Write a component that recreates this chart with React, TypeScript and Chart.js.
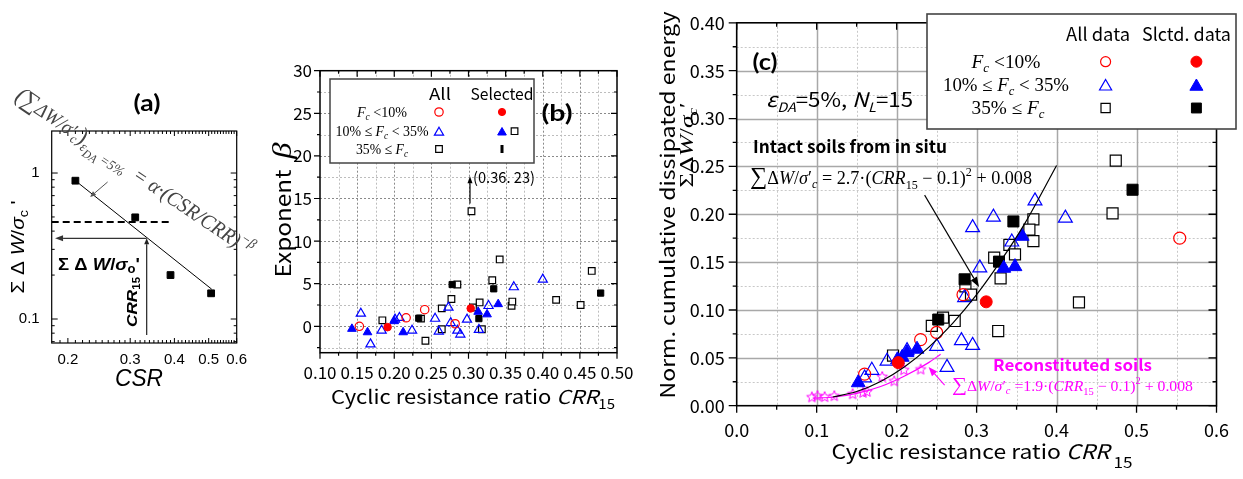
import React, { useEffect, useRef } from "react";
import { Chart, registerables } from "chart.js";
Chart.register(...registerables);

const W = 1243;
const H = 479;
const SANS = '"Noto Sans CJK JP", "Noto Sans", sans-serif';
const ARIAL = '"Liberation Sans", Arial, sans-serif';
const SERIF = '"Liberation Serif", "Times New Roman", serif';
const BOLDS = 'Lato, "Noto Sans", sans-serif';
const RED = "#ff0000";
const BLUE = "#0000ff";
const MAG = "#ff00ff";
const BLK = "#000000";
const NONE = "rgba(0,0,0,0)";

// ---------------- Panel (a) data ----------------
const aCSR = [0.21, 0.31, 0.39, 0.508];
const aEnergy = [0.886, 0.497, 0.2, 0.15];
const aFitCSR = [0.21, 0.51];
const aFitEnergy = [0.886, 0.16];
const aDashCSR = [0.18, 0.39];
const aDashEnergy = [0.462, 0.462];
const aXTicks = [0.2, 0.3, 0.4, 0.5, 0.6];
const aXTickLabels = ["0.2", "0.3", "0.4", "0.5", "0.6"];
const aYTicks = [0.1, 1];
const aYTickLabels = ["0.1", "1"];
const aCRR15 = 0.334;
const aEnergyAtCRR = 0.357;

// ---------------- Panel (b) data ----------------
const bAllLowX = [0.153, 0.216, 0.241, 0.282];
const bAllLowY = [0.0, 1.0, 1.95, 0.3];
const bSelLowX = [0.191, 0.303];
const bSelLowY = [-0.1, 2.1];
const bAllMidX = [0.155, 0.168, 0.183, 0.201, 0.207, 0.224, 0.255, 0.26, 0.273, 0.276, 0.285, 0.289, 0.298, 0.314, 0.327, 0.361, 0.4];
const bAllMidY = [1.5, -2.1, -0.5, 0.8, 1.0, -0.5, 0.9, -0.6, 2.2, 0.4, -0.5, -0.95, 0.8, -0.4, 2.4, 4.6, 5.5];
const bSelMidX = [0.143, 0.164, 0.2, 0.212, 0.313, 0.325, 0.34];
const bSelMidY = [-0.3, -0.7, 0.6, -0.7, 1.7, 1.4, 2.6];
const bAllHighX = [0.184, 0.236, 0.242, 0.264, 0.264, 0.277, 0.285, 0.306, 0.315, 0.318, 0.332, 0.342, 0.358, 0.359, 0.418, 0.451, 0.466, 0.304, 0.362];
const bAllHighY = [0.7, 0.9, -1.7, 2.1, -0.35, 3.2, 4.9, 2.2, 2.8, -0.35, 5.4, 7.85, 2.4, 2.9, 3.1, 2.5, 6.5, 13.5, 22.9];
const bSelHighX = [0.233, 0.278, 0.314, 0.334, 0.478];
const bSelHighY = [0.95, 4.9, 0.9, 4.4, 3.9];
const bXTicks = [0.1, 0.15, 0.2, 0.25, 0.3, 0.35, 0.4, 0.45, 0.5];
const bXTickLabels = ["0.10", "0.15", "0.20", "0.25", "0.30", "0.35", "0.40", "0.45", "0.50"];
const bYTicks = [0, 5, 10, 15, 20, 25, 30];
const bYTickLabels = ["0", "5", "10", "15", "20", "25", "30"];
const bOutlierX = 0.302;
const bOutlierArrowY = [14.4, 17.6];

// ---------------- Panel (c) data ----------------
const cAllLowX = [0.554, 0.25, 0.23, 0.16, 0.283];
const cAllLowY = [0.175, 0.0765, 0.069, 0.033, 0.116];
const cSelLowX = [0.312, 0.202];
const cSelLowY = [0.1085, 0.045];
const cAllMidX = [0.411, 0.373, 0.321, 0.295, 0.344, 0.304, 0.285, 0.281, 0.295, 0.263, 0.25, 0.213, 0.188, 0.169, 0.16];
const cAllMidY = [0.196, 0.214, 0.197, 0.186, 0.171, 0.144, 0.113, 0.068, 0.063, 0.04, 0.062, 0.0575, 0.0465, 0.037, 0.029];
const cSelMidX = [0.357, 0.334, 0.348, 0.2255, 0.213, 0.207, 0.201, 0.152];
const cSelMidY = [0.177, 0.1436, 0.1453, 0.059, 0.0555, 0.0506, 0.048, 0.024];
const cAllHighX = [0.474, 0.47, 0.428, 0.327, 0.371, 0.366, 0.371, 0.341, 0.348, 0.322, 0.33, 0.286, 0.293, 0.258, 0.244, 0.2726, 0.1955];
const cAllHighY = [0.256, 0.201, 0.108, 0.078, 0.1946, 0.184, 0.172, 0.168, 0.158, 0.1546, 0.133, 0.1247, 0.116, 0.092, 0.0834, 0.0885, 0.0524];
const cSelHighX = [0.495, 0.346, 0.328, 0.285, 0.252];
const cSelHighY = [0.2256, 0.1925, 0.1505, 0.132, 0.09];
const cReconX = [0.094, 0.101, 0.11, 0.122, 0.145, 0.158, 0.163, 0.182, 0.197, 0.209, 0.23];
const cReconY = [0.0087, 0.01, 0.009, 0.01, 0.012, 0.0135, 0.0145, 0.03, 0.0255, 0.0371, 0.0378];
const cIntactFitX = [0.12, 0.15, 0.18, 0.21, 0.24, 0.27, 0.3, 0.33, 0.36, 0.4];
const cIntactFitY = [0.0091, 0.0148, 0.0253, 0.0407, 0.0609, 0.086, 0.116, 0.151, 0.19, 0.251];
const cReconFitX = [0.095, 0.12, 0.15, 0.18, 0.21, 0.24, 0.255];
const cReconFitY = [0.008, 0.0088, 0.0128, 0.02, 0.031, 0.045, 0.0537];
const cXTicks = [0, 0.1, 0.2, 0.3, 0.4, 0.5, 0.6];
const cXTickLabels = ["0.0", "0.1", "0.2", "0.3", "0.4", "0.5", "0.6"];
const cYTicks = [0, 0.05, 0.1, 0.15, 0.2, 0.25, 0.3, 0.35, 0.4];
const cYTickLabels = ["0.00", "0.05", "0.10", "0.15", "0.20", "0.25", "0.30", "0.35", "0.40"];
const cIntactArrow = [0.235, 0.22, 0.303, 0.124];
const cReconArrow = [0.26, 0.0214, 0.24, 0.0403];

// ---------------- helpers ----------------
const pts = (xs: number[], ys: number[]) => xs.map((x, i) => ({ x, y: ys[i] }));
const steps = (a: number, b: number, s: number) => {
  const out: number[] = [];
  for (let k = 0; a + k * s <= b + 1e-9; k++) out.push(+(a + k * s).toFixed(4));
  return out;
};

type Seg = { t: string; s: number; f?: string; i?: boolean; b?: boolean; dy?: number; c?: string };
function segFont(g: Seg, fam: string) {
  return `${g.i ? "italic " : ""}${g.b ? "bold " : ""}${g.s}px ${g.f || fam}`;
}
function rich(ctx: any, segs: Seg[], x: number, y: number, o: any) {
  const fam = o.fam || SANS;
  ctx.save();
  ctx.translate(x, y);
  if (o.rot) ctx.rotate(o.rot);
  ctx.textAlign = "left";
  ctx.textBaseline = "alphabetic";
  let nat = 0;
  const ws: number[] = [];
  for (const g of segs) {
    ctx.font = segFont(g, fam);
    const w = ctx.measureText(g.t).width;
    ws.push(w);
    nat += w;
  }
  const sx = o.w ? o.w / nat : 1;
  ctx.scale(sx, 1);
  let cx = o.al === "c" ? -nat / 2 : o.al === "r" ? -nat : 0;
  const base = 0.36 * (o.mid ?? segs[0].s);
  segs.forEach((g, k) => {
    ctx.font = segFont(g, fam);
    ctx.fillStyle = g.c || o.col || "#000";
    ctx.fillText(g.t, cx, base + (g.dy || 0));
    cx += ws[k];
  });
  ctx.restore();
}
function arrow(ctx: any, x1: number, y1: number, x2: number, y2: number, col: string, lw: number, hl = 9, hw = 3.5) {
  ctx.save();
  ctx.strokeStyle = col;
  ctx.fillStyle = col;
  ctx.lineWidth = lw;
  const ang = Math.atan2(y2 - y1, x2 - x1);
  const bx = x2 - hl * Math.cos(ang);
  const by = y2 - hl * Math.sin(ang);
  ctx.beginPath();
  ctx.moveTo(x1, y1);
  ctx.lineTo(bx, by);
  ctx.stroke();
  ctx.beginPath();
  ctx.moveTo(x2, y2);
  ctx.lineTo(bx + hw * Math.sin(ang), by - hw * Math.cos(ang));
  ctx.lineTo(bx - hw * Math.sin(ang), by + hw * Math.cos(ang));
  ctx.closePath();
  ctx.fill();
  ctx.restore();
}
function mark(ctx: any, kind: string, x: number, y: number, r: number, fill: string | null, stroke: string, lw: number) {
  ctx.save();
  ctx.beginPath();
  if (kind === "circle") ctx.arc(x, y, r, 0, Math.PI * 2);
  else if (kind === "triangle") {
    const w = r * Math.sin((2 * Math.PI) / 3);
    ctx.moveTo(x, y - r);
    ctx.lineTo(x + w, y + r / 2);
    ctx.lineTo(x - w, y + r / 2);
    ctx.closePath();
  } else {
    const s = r * Math.SQRT1_2;
    ctx.rect(x - s, y - s, 2 * s, 2 * s);
  }
  if (fill) {
    ctx.fillStyle = fill;
    ctx.fill();
  }
  ctx.lineWidth = lw;
  ctx.strokeStyle = stroke;
  ctx.stroke();
  ctx.restore();
}
function starCanvas(color: string, R: number) {
  const c = document.createElement("canvas");
  const s = Math.ceil(R * 2 + 3);
  c.width = s;
  c.height = s;
  const g = c.getContext("2d") as CanvasRenderingContext2D;
  g.strokeStyle = color;
  g.lineWidth = 1;
  g.beginPath();
  for (let i = 0; i < 10; i++) {
    const r = i % 2 ? R * 0.45 : R;
    const an = -Math.PI / 2 + (i * Math.PI) / 5;
    const x = s / 2 + r * Math.cos(an);
    const y = s / 2 + r * Math.sin(an);
    if (i) g.lineTo(x, y);
    else g.moveTo(x, y);
  }
  g.closePath();
  g.stroke();
  return c;
}

function sc(xs: number[], ys: number[], style: any, r: number, border: string, bg: string, lw: number, order: number) {
  return {
    data: pts(xs, ys),
    pointStyle: style,
    pointRadius: r,
    pointHoverRadius: r,
    pointBorderColor: border,
    pointBackgroundColor: bg,
    pointBorderWidth: lw,
    borderColor: border,
    backgroundColor: bg,
    showLine: false,
    order,
  };
}
function ln(xs: number[], ys: number[], col: string, lw: number, order: number, dash: number[] = [], smooth = false) {
  return {
    data: pts(xs, ys),
    showLine: true,
    borderColor: col,
    borderWidth: lw,
    borderDash: dash,
    pointRadius: 0,
    pointHoverRadius: 0,
    cubicInterpolationMode: smooth ? "monotone" : "default",
    order,
  };
}

function axis(type: string, min: number, max: number, vals: number[], labels: string[], font: any, pad: number, size: number, isX: boolean) {
  return {
    type,
    min,
    max,
    position: isX ? "bottom" : "left",
    grid: { display: false, drawTicks: false },
    border: { display: false },
    afterBuildTicks: (s: any) => {
      s.ticks = vals.map((v) => ({ value: v }));
    },
    afterFit: (s: any) => {
      if (isX) s.height = size;
      else s.width = size;
    },
    ticks: {
      autoSkip: false,
      maxRotation: 0,
      minRotation: 0,
      padding: pad,
      color: "#000",
      font,
      callback: (_v: any, i: number) => labels[i],
    },
  };
}

function makePlugin(spec: any) {
  return {
    id: "decor",
    beforeDatasetsDraw(chart: any) {
      const ctx = chart.ctx;
      const a = chart.chartArea;
      const px = (v: number) => chart.scales.x.getPixelForValue(v);
      const py = (v: number) => chart.scales.y.getPixelForValue(v);
      ctx.save();
      for (const g of spec.grid || []) {
        ctx.strokeStyle = g.color;
        ctx.lineWidth = g.width;
        ctx.setLineDash(g.dash || []);
        ctx.beginPath();
        for (const v of g.x || []) {
          const x = Math.round(px(v)) + 0.5;
          ctx.moveTo(x, a.top);
          ctx.lineTo(x, a.bottom);
        }
        for (const v of g.y || []) {
          const y = Math.round(py(v)) + 0.5;
          ctx.moveTo(a.left, y);
          ctx.lineTo(a.right, y);
        }
        ctx.stroke();
      }
      ctx.setLineDash([]);
      ctx.strokeStyle = "#000";
      ctx.lineWidth = spec.tickW || 1;
      ctx.beginPath();
      for (const t of spec.xt) {
        for (const v of t.v) {
          const x = px(v);
          const d = spec.outX ? t.len : -t.len;
          ctx.moveTo(x, a.bottom);
          ctx.lineTo(x, a.bottom + d);
          ctx.moveTo(x, a.top);
          ctx.lineTo(x, a.top + t.len);
        }
      }
      for (const t of spec.yt) {
        for (const v of t.v) {
          const y = py(v);
          const d = spec.outY ? -t.len : t.len;
          ctx.moveTo(a.left, y);
          ctx.lineTo(a.left + d, y);
          ctx.moveTo(a.right, y);
          ctx.lineTo(a.right - t.len, y);
        }
      }
      ctx.stroke();
      ctx.lineWidth = spec.frameW;
      ctx.strokeRect(a.left, a.top, a.right - a.left, a.bottom - a.top);
      if (spec.before) spec.before(ctx, px, py, a);
      ctx.restore();
    },
    afterDatasetsDraw(chart: any) {
      const ctx = chart.ctx;
      const a = chart.chartArea;
      const px = (v: number) => chart.scales.x.getPixelForValue(v);
      const py = (v: number) => chart.scales.y.getPixelForValue(v);
      ctx.save();
      if (spec.after) spec.after(ctx, px, py, a);
      ctx.restore();
    },
  };
}

function cfg(area: any, xAxis: any, yAxis: any, datasets: any[], spec: any) {
  return {
    type: "scatter",
    data: { datasets },
    options: {
      responsive: false,
      maintainAspectRatio: false,
      animation: false,
      devicePixelRatio: 1,
      events: [],
      layout: { padding: { left: 0, top: area.t, right: W - area.r, bottom: 0 } },
      plugins: { legend: { display: false }, tooltip: { enabled: false } },
      scales: { x: xAxis, y: yAxis },
    },
    plugins: [makePlugin(spec)],
  } as any;
}

// ---------------- Panel (a) ----------------
function configA() {
  const area = { l: 51.7, t: 131, r: 236.7, b: 343 };
  const f = { family: ARIAL, size: 15 };
  const xMinor = steps(0.19, 0.59, 0.01).filter((v) => !aXTicks.some((t) => Math.abs(t - v) < 1e-6));
  const yMinor = [0.07, 0.08, 0.09, 0.2, 0.3, 0.4, 0.5, 0.6, 0.7, 0.8, 0.9];
  const spec = {
    outX: false,
    outY: false,
    frameW: 1.2,
    tickW: 1,
    xt: [
      { v: aXTicks, len: 5 },
      { v: xMinor, len: 3 },
    ],
    yt: [
      { v: aYTicks, len: 6 },
      { v: yMinor, len: 3 },
    ],
    after: (ctx: any, px: any, py: any, a: any) => {
      arrow(ctx, px(aCRR15), py(aEnergyAtCRR), px(0.184), py(aEnergyAtCRR), "#333", 1.4, 8, 3);
      arrow(ctx, px(aCRR15), a.bottom - 8, px(aCRR15), py(aEnergyAtCRR), "#222", 1.2, 6, 2.5);
      arrow(ctx, px(0.259), py(0.868), px(0.231), py(0.685), "#555", 1, 6, 2.5);
      rich(ctx, [{ t: "(a)", s: 22, b: true }], 147, 103, { al: "c", w: 27, fam: BOLDS });
      rich(
        ctx,
        [
          { t: "Σ Δ ", s: 19 },
          { t: "W", s: 19, i: true },
          { t: "/", s: 19 },
          { t: "σ", s: 19, i: true },
          { t: "c", s: 13, dy: 4 },
          { t: " '", s: 19 },
        ],
        17,
        247,
        { al: "c", rot: -Math.PI / 2, w: 93, fam: ARIAL }
      );
      rich(ctx, [{ t: "CSR", s: 24, i: true }], 139, 377, { al: "c", w: 48, fam: ARIAL });
      rich(
        ctx,
        [
          { t: "Σ Δ ", s: 17, b: true },
          { t: "W", s: 17, b: true, i: true },
          { t: "/", s: 17, b: true },
          { t: "σ", s: 17, b: true, i: true },
          { t: "o", s: 12, b: true, dy: 3 },
          { t: "'", s: 17, b: true },
        ],
        99,
        264,
        { al: "c", w: 82, fam: ARIAL }
      );
      rich(
        ctx,
        [
          { t: "CRR", s: 15, b: true, i: true },
          { t: "15", s: 10, b: true, dy: 3 },
        ],
        132,
        302,
        { al: "c", rot: -Math.PI / 2, w: 50, fam: ARIAL }
      );
      rich(
        ctx,
        [
          { t: "(∑", s: 24, i: true },
          { t: "ΔW/σ′", s: 20, i: true },
          { t: "c", s: 13, i: true, dy: 4 },
          { t: ")", s: 24 },
          { t: "ε", s: 14, i: true, dy: 5 },
          { t: "DA", s: 12, i: true, dy: 9 },
          { t: " =5%", s: 14, i: true, dy: 5 },
          { t: "  = α·(CSR/CRR)", s: 21, i: true },
          { t: "−β", s: 14, i: true, dy: -9 },
        ],
        18,
        93,
        { al: "l", rot: (34 * Math.PI) / 180, w: 282, fam: SERIF, col: "#444", mid: 20 }
      );
    },
  };
  const datasets = [
    sc(aCSR, aEnergy, "rect", 4.8, BLK, BLK, 1, 0),
    ln(aFitCSR, aFitEnergy, BLK, 1, 1),
    ln(aDashCSR, aDashEnergy, BLK, 2, 1, [7, 4]),
  ];
  return cfg(
    area,
    axis("logarithmic", 0.18, 0.6, aXTicks, aXTickLabels, f, 8, H - area.b, true),
    axis("logarithmic", 0.0685, 1.94, aYTicks, aYTickLabels, f, 12, area.l, false),
    datasets,
    spec
  );
}

// ---------------- Panel (b) ----------------
function configB() {
  const area = { l: 320, t: 70.7, r: 617, b: 352.7 };
  const f = { family: SANS, size: 17 };
  const xMinor = steps(0.125, 0.475, 0.05);
  const yMinor = steps(-2.5, 27.5, 5);
  const spec = {
    outX: true,
    outY: true,
    frameW: 1.5,
    tickW: 1.2,
    grid: [
      { color: "#bdbdbd", width: 1, dash: [2, 2], x: xMinor, y: yMinor },
      { color: "#8a8a8a", width: 1, dash: [2, 2], x: steps(0.15, 0.45, 0.05), y: steps(0, 25, 5) },
    ],
    xt: [
      { v: bXTicks, len: 6 },
      { v: xMinor, len: 3 },
    ],
    yt: [
      { v: bYTicks, len: 6 },
      { v: yMinor, len: 3 },
    ],
    before: (ctx: any) => {
      ctx.fillStyle = "#fff";
      ctx.fillRect(330, 79, 204, 84);
      ctx.strokeStyle = "#444";
      ctx.lineWidth = 1.5;
      ctx.strokeRect(330, 79, 204, 84);
      rich(ctx, [{ t: "All", s: 16 }], 440, 94, { al: "c", w: 22 });
      rich(ctx, [{ t: "Selected", s: 16 }], 502, 94, { al: "c", w: 63 });
      rich(
        ctx,
        [
          { t: "F", s: 15, i: true },
          { t: "c", s: 10, i: true, dy: 3 },
          { t: " <10%", s: 15 },
        ],
        382,
        112,
        { al: "c", w: 50, fam: SERIF }
      );
      rich(
        ctx,
        [
          { t: "10% ≤ ", s: 15 },
          { t: "F", s: 15, i: true },
          { t: "c", s: 10, i: true, dy: 3 },
          { t: " < 35%", s: 15 },
        ],
        382,
        131,
        { al: "c", w: 93, fam: SERIF }
      );
      rich(
        ctx,
        [
          { t: "35% ≤ ", s: 15 },
          { t: "F", s: 15, i: true },
          { t: "c", s: 10, i: true, dy: 3 },
        ],
        382,
        149,
        { al: "c", w: 52, fam: SERIF }
      );
      mark(ctx, "circle", 439, 112, 4.2, null, RED, 1.2);
      mark(ctx, "triangle", 439, 132.5, 5.3, null, BLUE, 1.2);
      mark(ctx, "rect", 439, 149, 4.7, "#fff", BLK, 1.2);
      mark(ctx, "circle", 502, 112, 3.6, RED, RED, 1);
      mark(ctx, "triangle", 502, 132.5, 5, BLUE, BLUE, 1);
      ctx.fillStyle = BLK;
      ctx.fillRect(500.5, 145, 3, 8);
    },
    after: (ctx: any, px: any, py: any) => {
      arrow(ctx, px(bOutlierX), py(bOutlierArrowY[0]), px(bOutlierX), py(bOutlierArrowY[1]), "#000", 1.2, 7, 2.5);
      rich(ctx, [{ t: "(0.36. 23)", s: 15 }], 473, 178, { al: "l", w: 62 });
      rich(ctx, [{ t: "(b)", s: 22, b: true }], 557, 113, { al: "c", w: 31, fam: BOLDS });
      rich(
        ctx,
        [
          { t: "Exponent  ", s: 21 },
          { t: "β", s: 28, i: true, f: SERIF },
        ],
        283,
        210,
        { al: "c", rot: -Math.PI / 2, w: 135, mid: 21 }
      );
      rich(
        ctx,
        [
          { t: "Cyclic resistance ratio ", s: 19 },
          { t: "CRR", s: 19, i: true },
          { t: "15", s: 13, dy: 5 },
        ],
        473,
        397,
        { al: "c", w: 284 }
      );
    },
  };
  const datasets = [
    sc(bSelLowX, bSelLowY, "circle", 3.8, RED, RED, 1, 1),
    sc(bSelMidX, bSelMidY, "triangle", 5, BLUE, BLUE, 1, 1),
    sc(bSelHighX, bSelHighY, "rect", 4.4, BLK, BLK, 1, 1),
    sc(bAllLowX, bAllLowY, "circle", 4.2, RED, NONE, 1.2, 2),
    sc(bAllMidX, bAllMidY, "triangle", 5.3, BLUE, NONE, 1.2, 2),
    sc(bAllHighX, bAllHighY, "rect", 4.7, BLK, "#fff", 1.2, 3),
  ];
  return cfg(
    area,
    axis("linear", 0.1, 0.5, bXTicks, bXTickLabels, f, 10, H - area.b, true),
    axis("linear", -3.1, 30, bYTicks, bYTickLabels, f, 8, area.l, false),
    datasets,
    spec
  );
}

// ---------------- Panel (c) ----------------
function configC(star: any) {
  const area = { l: 736.7, t: 18.5, r: 1224, b: 405.7 };
  const f = { family: SANS, size: 18 };
  const xMinor = steps(0.05, 0.55, 0.1);
  const yMinor = steps(0.025, 0.375, 0.05);
  const spec = {
    outX: true,
    outY: true,
    frameW: 1.6,
    tickW: 1.3,
    grid: [
      { color: "#c8c8c8", width: 1, dash: [2, 2], x: xMinor, y: yMinor },
      { color: "#a8a8a8", width: 1.5, dash: [], x: steps(0.1, 0.5, 0.1), y: steps(0.05, 0.35, 0.05) },
    ],
    xt: [
      { v: cXTicks, len: 7 },
      { v: xMinor, len: 4 },
    ],
    yt: [
      { v: cYTicks, len: 8 },
      { v: yMinor, len: 4 },
    ],
    before: (ctx: any) => {
      ctx.fillStyle = "#fff";
      ctx.fillRect(927, 14, 309, 115);
      ctx.strokeStyle = "#444";
      ctx.lineWidth = 1.6;
      ctx.strokeRect(927, 14, 309, 115);
      rich(ctx, [{ t: "All data", s: 18 }], 1098, 35, { al: "c", w: 64 });
      rich(ctx, [{ t: "Slctd. data", s: 18 }], 1186.5, 35, { al: "c", w: 89 });
      rich(
        ctx,
        [
          { t: "F", s: 18, i: true },
          { t: "c", s: 12, i: true, dy: 4 },
          { t: " <10%", s: 18 },
        ],
        1006,
        61.7,
        { al: "c", w: 69, fam: SERIF }
      );
      rich(
        ctx,
        [
          { t: "10% ≤ ", s: 18 },
          { t: "F", s: 18, i: true },
          { t: "c", s: 12, i: true, dy: 4 },
          { t: " < 35%", s: 18 },
        ],
        1006,
        85,
        { al: "c", w: 126, fam: SERIF }
      );
      rich(
        ctx,
        [
          { t: "35% ≤ ", s: 18 },
          { t: "F", s: 18, i: true },
          { t: "c", s: 12, i: true, dy: 4 },
        ],
        1008,
        108,
        { al: "c", w: 73, fam: SERIF }
      );
      mark(ctx, "circle", 1105.6, 61.7, 5, null, RED, 1.2);
      mark(ctx, "triangle", 1105.6, 86.5, 7, null, BLUE, 1.2);
      mark(ctx, "rect", 1105.6, 108, 6.5, "#fff", BLK, 1.2);
      mark(ctx, "circle", 1196.4, 61.7, 5.5, RED, RED, 1);
      mark(ctx, "triangle", 1196.4, 86.5, 7.5, BLUE, BLUE, 1);
      mark(ctx, "rect", 1196.4, 108, 7, BLK, BLK, 1);
    },
    after: (ctx: any, px: any, py: any) => {
      arrow(ctx, px(cIntactArrow[0]), py(cIntactArrow[1]), px(cIntactArrow[2]), py(cIntactArrow[3]), "#000", 1.1, 10, 3.5);
      arrow(ctx, px(cReconArrow[0]), py(cReconArrow[1]), px(cReconArrow[2]), py(cReconArrow[3]), MAG, 1.1, 9, 3.5);
      rich(ctx, [{ t: "(c)", s: 22, b: true }], 765, 62, { al: "c", w: 25, fam: BOLDS });
      rich(
        ctx,
        [
          { t: "ε", s: 20, i: true },
          { t: "DA", s: 13, i: true, dy: 5 },
          { t: "=5%, ", s: 20 },
          { t: "N", s: 20, i: true },
          { t: "L", s: 13, i: true, dy: 5 },
          { t: "=15", s: 20 },
        ],
        839.5,
        100,
        { al: "c", w: 147 }
      );
      rich(ctx, [{ t: "Intact soils from in situ", s: 17, b: true }], 753, 146.7, { al: "l", w: 194 });
      rich(
        ctx,
        [
          { t: "∑", s: 24 },
          { t: "Δ", s: 18 },
          { t: "W", s: 18, i: true },
          { t: "/", s: 18 },
          { t: "σ", s: 18, i: true },
          { t: "′", s: 18 },
          { t: "c", s: 12, i: true, dy: 4 },
          { t: " = 2.7·(", s: 18 },
          { t: "CRR", s: 18, i: true },
          { t: "15", s: 12, dy: 5 },
          { t: " − 0.1)", s: 18 },
          { t: "2", s: 12, dy: -8 },
          { t: " + 0.008", s: 18 },
        ],
        750,
        178,
        { al: "l", w: 282, fam: SERIF, mid: 18 }
      );
      rich(ctx, [{ t: "Reconstituted soils", s: 16, b: true, c: MAG }], 993, 365, { al: "l", w: 159 });
      rich(
        ctx,
        [
          { t: "∑", s: 20 },
          { t: "Δ", s: 15 },
          { t: "W", s: 15, i: true },
          { t: "/", s: 15 },
          { t: "σ", s: 15, i: true },
          { t: "′", s: 15 },
          { t: "c", s: 10, i: true, dy: 3 },
          { t: " =1.9·(", s: 15 },
          { t: "CRR", s: 15, i: true },
          { t: "15", s: 10, dy: 4 },
          { t: " − 0.1)", s: 15 },
          { t: "2", s: 10, dy: -7 },
          { t: " + 0.008", s: 15 },
        ],
        952,
        386,
        { al: "l", w: 241, fam: SERIF, col: MAG, mid: 15 }
      );
      rich(ctx, [{ t: "Norm. cumulative dissipated energy", s: 20 }], 668, 205, { al: "c", rot: -Math.PI / 2, w: 387 });
      rich(
        ctx,
        [
          { t: "ΣΔ", s: 18 },
          { t: "W", s: 18, i: true },
          { t: "/", s: 18 },
          { t: "σ", s: 18, i: true },
          { t: "c", s: 12, i: true, dy: 4 },
          { t: "′", s: 18 },
        ],
        687,
        145,
        { al: "c", rot: -Math.PI / 2, w: 85, fam: SERIF }
      );
      rich(
        ctx,
        [
          { t: "Cyclic resistance ratio ", s: 20 },
          { t: "CRR", s: 20, i: true },
          { t: " 15", s: 15, dy: 9 },
        ],
        982,
        452,
        { al: "c", w: 301, mid: 20 }
      );
    },
  };
  const datasets = [
    ln(cIntactFitX, cIntactFitY, BLK, 1.2, 0, [], true),
    ln(cReconFitX, cReconFitY, MAG, 1.2, 0, [], true),
    sc(cSelLowX, cSelLowY, "circle", 6, RED, RED, 1, 1),
    sc(cSelMidX, cSelMidY, "triangle", 8, BLUE, BLUE, 1, 1),
    sc(cSelHighX, cSelHighY, "rect", 7.8, BLK, BLK, 1, 1),
    sc(cAllLowX, cAllLowY, "circle", 6, RED, NONE, 1.2, 2),
    sc(cAllMidX, cAllMidY, "triangle", 8, BLUE, NONE, 1.2, 2),
    sc(cReconX, cReconY, star, 5, MAG, NONE, 1, 2),
    sc(cAllHighX, cAllHighY, "rect", 7.8, BLK, "#fff", 1.2, 3),
  ];
  return cfg(
    area,
    axis("linear", 0, 0.6, cXTicks, cXTickLabels, f, 14, H - area.b, true),
    axis("linear", 0, 0.4, cYTicks, cYTickLabels, f, 12, area.l, false),
    datasets,
    spec
  );
}

export default function App() {
  const ra = useRef<HTMLCanvasElement>(null);
  const rb = useRef<HTMLCanvasElement>(null);
  const rc = useRef<HTMLCanvasElement>(null);
  useEffect(() => {
    const star = starCanvas(MAG, 5.5);
    const charts = [
      new Chart(ra.current as HTMLCanvasElement, configA()),
      new Chart(rb.current as HTMLCanvasElement, configB()),
      new Chart(rc.current as HTMLCanvasElement, configC(star)),
    ];
    return () => charts.forEach((c) => c.destroy());
  }, []);
  const st: any = { position: "absolute", left: 0, top: 0, width: W, height: H };
  return (
    <div style={{ position: "fixed", left: 0, top: 0, width: W, height: H, background: "#fff" }}>
      <canvas ref={ra} width={W} height={H} style={st} />
      <canvas ref={rb} width={W} height={H} style={st} />
      <canvas ref={rc} width={W} height={H} style={st} />
    </div>
  );
}
